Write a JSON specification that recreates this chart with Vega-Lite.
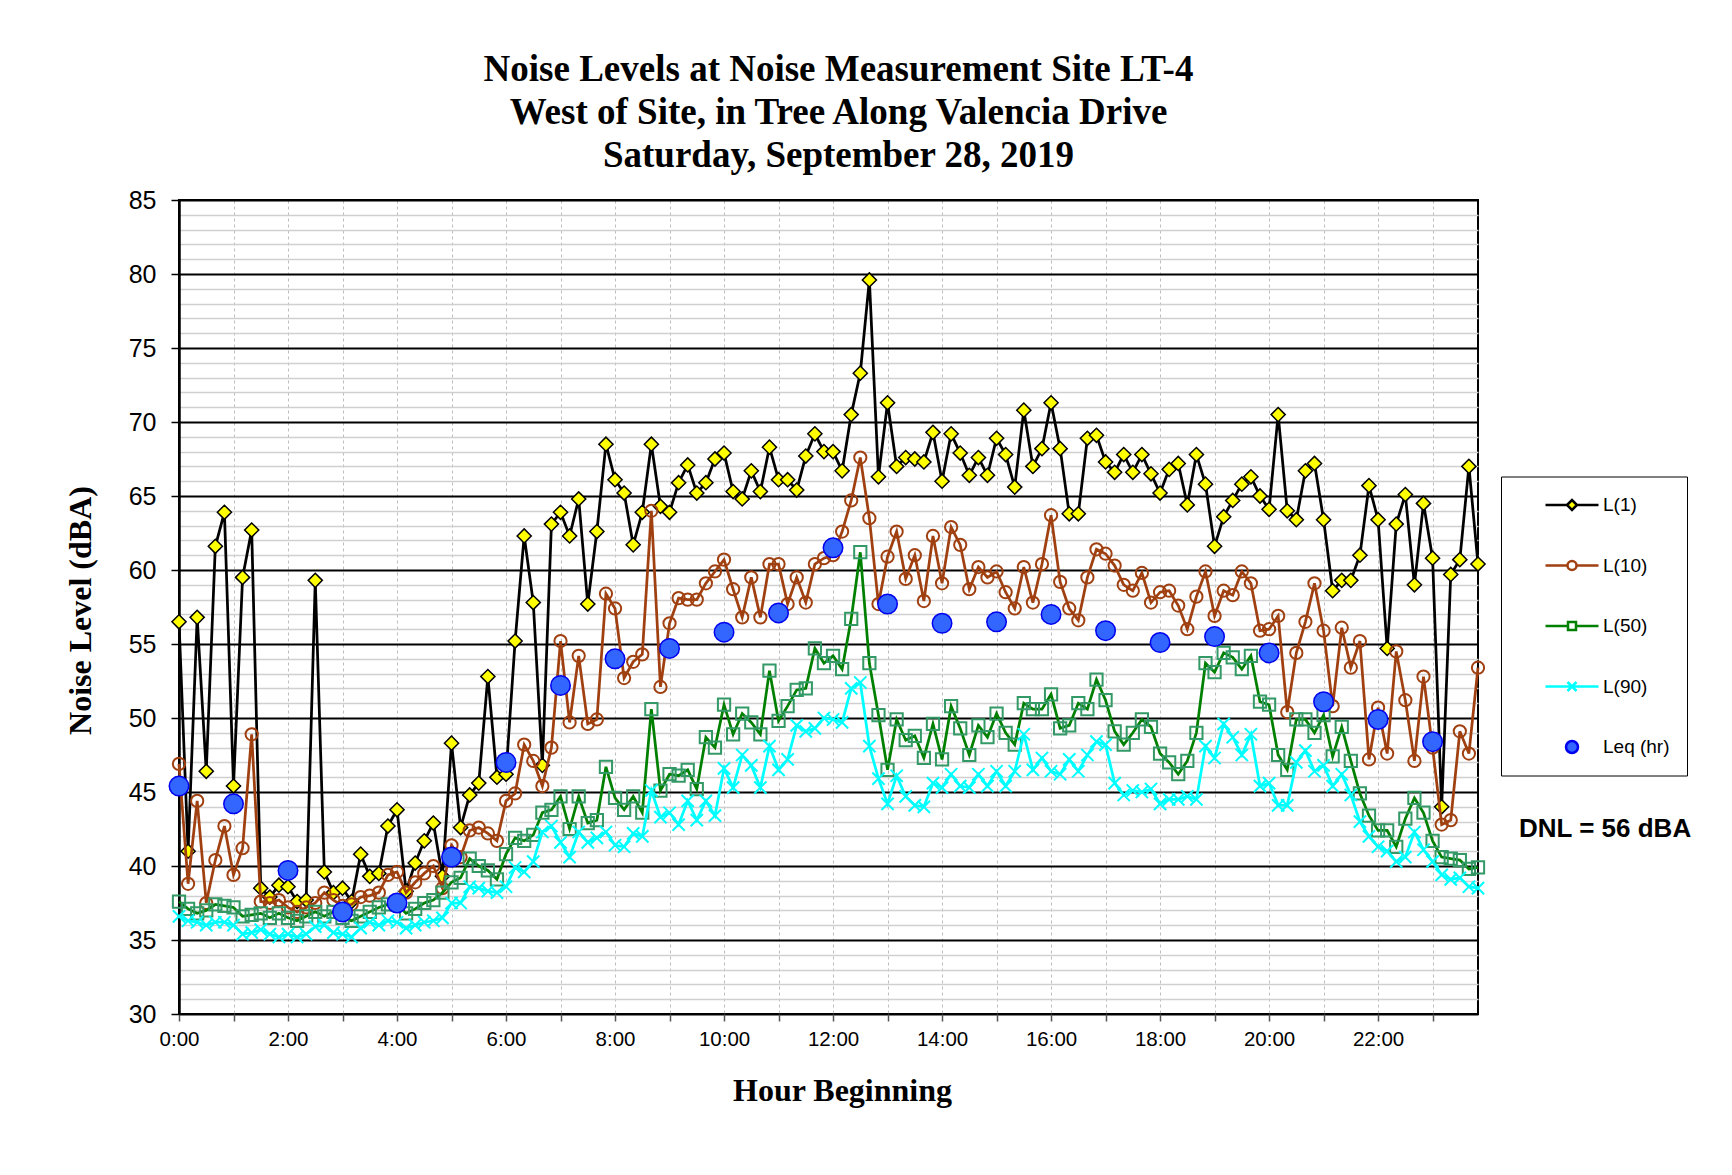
{
  "$schema": "https://vega.github.io/schema/vega-lite/v6.json",
  "width": 1299,
  "height": 814,
  "autosize": {"type": "none"},
  "padding": {"left": 179, "top": 200, "right": 254, "bottom": 161},
  "background": "white",
  "title": {
    "text": ["Noise Levels at Noise Measurement Site LT-4", "West of Site, in Tree Along Valencia Drive", "Saturday, September 28, 2019"],
    "font": "Liberation Serif", "fontSize": 37, "fontWeight": "bold", "color": "black",
    "lineHeight": 43, "anchor": "middle", "offset": 13, "dx": 10
  },
  "datasets": {
    "ten": [
      {"t":0,"L1":56.5,"L10":46.9,"L50":37.6,"L90":36.6},
      {"t":10,"L1":41.0,"L10":38.8,"L50":37.1,"L90":36.3},
      {"t":20,"L1":56.8,"L10":44.4,"L50":36.8,"L90":36.2},
      {"t":30,"L1":46.4,"L10":37.5,"L50":37.0,"L90":36.0},
      {"t":40,"L1":61.6,"L10":40.4,"L50":37.4,"L90":36.2},
      {"t":50,"L1":63.9,"L10":42.7,"L50":37.3,"L90":36.2},
      {"t":60,"L1":45.4,"L10":39.4,"L50":37.2,"L90":36.0},
      {"t":70,"L1":59.5,"L10":41.2,"L50":36.6,"L90":35.4},
      {"t":80,"L1":62.7,"L10":48.9,"L50":36.7,"L90":35.5},
      {"t":90,"L1":38.5,"L10":37.6,"L50":36.8,"L90":35.7},
      {"t":100,"L1":37.9,"L10":37.5,"L50":36.5,"L90":35.4},
      {"t":110,"L1":38.7,"L10":37.7,"L50":36.8,"L90":35.2},
      {"t":120,"L1":38.6,"L10":37.2,"L50":36.5,"L90":35.4},
      {"t":130,"L1":37.6,"L10":36.9,"L50":36.3,"L90":35.2},
      {"t":140,"L1":37.7,"L10":37.2,"L50":36.6,"L90":35.4},
      {"t":150,"L1":59.3,"L10":37.5,"L50":36.9,"L90":35.9},
      {"t":160,"L1":39.6,"L10":38.2,"L50":36.6,"L90":36.0},
      {"t":170,"L1":38.2,"L10":37.7,"L50":36.9,"L90":35.5},
      {"t":180,"L1":38.5,"L10":37.3,"L50":36.5,"L90":35.4},
      {"t":190,"L1":37.6,"L10":37.4,"L50":36.3,"L90":35.2},
      {"t":200,"L1":40.8,"L10":37.9,"L50":36.6,"L90":35.8},
      {"t":210,"L1":39.3,"L10":38.0,"L50":36.9,"L90":36.2},
      {"t":220,"L1":39.5,"L10":38.2,"L50":37.2,"L90":36.0},
      {"t":230,"L1":42.7,"L10":39.4,"L50":37.4,"L90":36.3},
      {"t":240,"L1":43.8,"L10":39.6,"L50":37.4,"L90":36.2},
      {"t":250,"L1":38.3,"L10":38.2,"L50":36.8,"L90":35.8},
      {"t":260,"L1":40.2,"L10":38.9,"L50":37.1,"L90":36.0},
      {"t":270,"L1":41.7,"L10":39.5,"L50":37.5,"L90":36.2},
      {"t":280,"L1":42.9,"L10":40.0,"L50":37.7,"L90":36.3},
      {"t":290,"L1":39.3,"L10":38.5,"L50":38.2,"L90":36.5},
      {"t":300,"L1":48.3,"L10":41.4,"L50":38.9,"L90":37.5},
      {"t":310,"L1":42.6,"L10":40.6,"L50":39.2,"L90":37.5},
      {"t":320,"L1":44.8,"L10":42.4,"L50":40.5,"L90":38.6},
      {"t":330,"L1":45.6,"L10":42.6,"L50":40.0,"L90":38.5},
      {"t":340,"L1":52.8,"L10":42.2,"L50":39.7,"L90":38.3},
      {"t":350,"L1":46.0,"L10":41.7,"L50":39.1,"L90":38.2},
      {"t":360,"L1":46.2,"L10":44.4,"L50":40.8,"L90":38.6},
      {"t":370,"L1":55.2,"L10":44.9,"L50":41.9,"L90":39.9},
      {"t":380,"L1":62.3,"L10":48.2,"L50":41.7,"L90":39.6},
      {"t":390,"L1":57.8,"L10":47.1,"L50":42.1,"L90":40.3},
      {"t":400,"L1":46.8,"L10":45.4,"L50":43.6,"L90":42.3},
      {"t":410,"L1":63.1,"L10":48.0,"L50":43.8,"L90":42.7},
      {"t":420,"L1":63.9,"L10":55.2,"L50":44.7,"L90":41.6},
      {"t":430,"L1":62.3,"L10":49.7,"L50":42.5,"L90":40.6},
      {"t":440,"L1":64.8,"L10":54.2,"L50":44.7,"L90":42.3},
      {"t":450,"L1":57.7,"L10":49.6,"L50":42.9,"L90":41.6},
      {"t":460,"L1":62.6,"L10":49.9,"L50":43.1,"L90":41.9},
      {"t":470,"L1":68.5,"L10":58.4,"L50":46.7,"L90":42.3},
      {"t":480,"L1":66.1,"L10":57.4,"L50":44.6,"L90":41.4},
      {"t":490,"L1":65.2,"L10":52.7,"L50":43.8,"L90":41.3},
      {"t":500,"L1":61.7,"L10":53.8,"L50":44.7,"L90":42.2},
      {"t":510,"L1":63.9,"L10":54.3,"L50":43.6,"L90":42.0},
      {"t":520,"L1":68.5,"L10":64.0,"L50":50.6,"L90":45.1},
      {"t":530,"L1":64.3,"L10":52.1,"L50":45.1,"L90":43.3},
      {"t":540,"L1":63.9,"L10":56.4,"L50":46.2,"L90":43.6},
      {"t":550,"L1":65.9,"L10":58.1,"L50":46.1,"L90":42.8},
      {"t":560,"L1":67.1,"L10":58.0,"L50":46.5,"L90":44.4},
      {"t":570,"L1":65.2,"L10":58.0,"L50":45.2,"L90":43.1},
      {"t":580,"L1":65.9,"L10":59.1,"L50":48.7,"L90":44.4},
      {"t":590,"L1":67.5,"L10":59.9,"L50":48.0,"L90":43.4},
      {"t":600,"L1":67.9,"L10":60.7,"L50":50.9,"L90":46.6},
      {"t":610,"L1":65.3,"L10":58.7,"L50":48.9,"L90":45.3},
      {"t":620,"L1":64.8,"L10":56.8,"L50":50.3,"L90":47.5},
      {"t":630,"L1":66.7,"L10":59.5,"L50":49.7,"L90":46.8},
      {"t":640,"L1":65.3,"L10":56.8,"L50":48.9,"L90":45.3},
      {"t":650,"L1":68.3,"L10":60.4,"L50":53.2,"L90":48.1},
      {"t":660,"L1":66.1,"L10":60.4,"L50":49.8,"L90":46.5},
      {"t":670,"L1":66.1,"L10":57.7,"L50":50.8,"L90":47.2},
      {"t":680,"L1":65.4,"L10":59.5,"L50":51.9,"L90":49.5},
      {"t":690,"L1":67.7,"L10":57.8,"L50":52.0,"L90":49.1},
      {"t":700,"L1":69.2,"L10":60.4,"L50":54.7,"L90":49.3},
      {"t":710,"L1":68.0,"L10":60.8,"L50":53.7,"L90":50.0},
      {"t":720,"L1":68.0,"L10":61.0,"L50":54.2,"L90":49.9},
      {"t":730,"L1":66.7,"L10":62.6,"L50":53.3,"L90":49.7},
      {"t":740,"L1":70.5,"L10":64.7,"L50":56.7,"L90":52.0},
      {"t":750,"L1":73.3,"L10":67.6,"L50":61.2,"L90":52.4},
      {"t":760,"L1":79.6,"L10":63.5,"L50":53.7,"L90":48.1},
      {"t":770,"L1":66.3,"L10":57.7,"L50":50.2,"L90":45.9},
      {"t":780,"L1":71.3,"L10":60.9,"L50":46.5,"L90":44.2},
      {"t":790,"L1":67.0,"L10":62.6,"L50":49.9,"L90":46.1},
      {"t":800,"L1":67.6,"L10":59.4,"L50":48.5,"L90":44.7},
      {"t":810,"L1":67.5,"L10":61.0,"L50":48.8,"L90":44.1},
      {"t":820,"L1":67.3,"L10":57.9,"L50":47.3,"L90":44.0},
      {"t":830,"L1":69.3,"L10":62.3,"L50":49.6,"L90":45.6},
      {"t":840,"L1":66.0,"L10":59.1,"L50":47.2,"L90":45.3},
      {"t":850,"L1":69.2,"L10":62.9,"L50":50.8,"L90":46.2},
      {"t":860,"L1":67.9,"L10":61.7,"L50":49.3,"L90":45.4},
      {"t":870,"L1":66.4,"L10":58.7,"L50":47.5,"L90":45.3},
      {"t":880,"L1":67.6,"L10":60.2,"L50":49.5,"L90":46.2},
      {"t":890,"L1":66.4,"L10":59.5,"L50":48.7,"L90":45.4},
      {"t":900,"L1":68.9,"L10":59.9,"L50":50.3,"L90":46.4},
      {"t":910,"L1":67.8,"L10":58.5,"L50":49.0,"L90":45.4},
      {"t":920,"L1":65.6,"L10":57.4,"L50":48.2,"L90":46.4},
      {"t":930,"L1":70.8,"L10":60.2,"L50":51.0,"L90":48.9},
      {"t":940,"L1":67.0,"L10":57.8,"L50":50.6,"L90":46.5},
      {"t":950,"L1":68.2,"L10":60.4,"L50":50.6,"L90":47.3},
      {"t":960,"L1":71.3,"L10":63.7,"L50":51.6,"L90":46.4},
      {"t":970,"L1":68.2,"L10":59.2,"L50":49.3,"L90":46.2},
      {"t":980,"L1":63.8,"L10":57.4,"L50":49.5,"L90":47.2},
      {"t":990,"L1":63.8,"L10":56.6,"L50":51.0,"L90":46.4},
      {"t":1000,"L1":68.9,"L10":59.5,"L50":50.6,"L90":47.5},
      {"t":1010,"L1":69.1,"L10":61.4,"L50":52.6,"L90":48.4},
      {"t":1020,"L1":67.3,"L10":61.1,"L50":51.2,"L90":48.2},
      {"t":1030,"L1":66.6,"L10":60.3,"L50":49.1,"L90":45.6},
      {"t":1040,"L1":67.8,"L10":59.0,"L50":48.2,"L90":44.8},
      {"t":1050,"L1":66.6,"L10":58.6,"L50":49.0,"L90":45.1},
      {"t":1060,"L1":67.8,"L10":59.8,"L50":49.9,"L90":45.0},
      {"t":1070,"L1":66.5,"L10":57.8,"L50":49.4,"L90":45.2},
      {"t":1080,"L1":65.2,"L10":58.5,"L50":47.6,"L90":44.2},
      {"t":1090,"L1":66.8,"L10":58.6,"L50":47.0,"L90":44.5},
      {"t":1100,"L1":67.2,"L10":57.6,"L50":46.2,"L90":44.5},
      {"t":1110,"L1":64.4,"L10":56.0,"L50":47.1,"L90":44.7},
      {"t":1120,"L1":67.8,"L10":58.2,"L50":49.0,"L90":44.5},
      {"t":1130,"L1":65.8,"L10":59.9,"L50":53.7,"L90":48.1},
      {"t":1140,"L1":61.6,"L10":56.9,"L50":53.1,"L90":47.3},
      {"t":1150,"L1":63.6,"L10":58.6,"L50":54.4,"L90":49.6},
      {"t":1160,"L1":64.7,"L10":58.3,"L50":54.1,"L90":48.7},
      {"t":1170,"L1":65.8,"L10":59.9,"L50":53.3,"L90":47.5},
      {"t":1180,"L1":66.3,"L10":59.1,"L50":54.2,"L90":48.9},
      {"t":1190,"L1":65.0,"L10":55.9,"L50":51.1,"L90":45.4},
      {"t":1200,"L1":64.1,"L10":56.0,"L50":50.9,"L90":45.6},
      {"t":1210,"L1":70.5,"L10":56.9,"L50":47.5,"L90":44.1},
      {"t":1220,"L1":64.0,"L10":50.4,"L50":46.5,"L90":44.1},
      {"t":1230,"L1":63.4,"L10":54.4,"L50":49.9,"L90":47.0},
      {"t":1240,"L1":66.7,"L10":56.5,"L50":49.9,"L90":47.8},
      {"t":1250,"L1":67.2,"L10":59.1,"L50":49.0,"L90":46.4},
      {"t":1260,"L1":63.4,"L10":55.9,"L50":50.2,"L90":46.8},
      {"t":1270,"L1":58.6,"L10":50.8,"L50":47.4,"L90":45.4},
      {"t":1280,"L1":59.3,"L10":56.1,"L50":49.4,"L90":46.2},
      {"t":1290,"L1":59.3,"L10":53.4,"L50":47.1,"L90":44.8},
      {"t":1300,"L1":61.0,"L10":55.2,"L50":44.9,"L90":43.0},
      {"t":1310,"L1":65.7,"L10":47.2,"L50":43.4,"L90":42.0},
      {"t":1320,"L1":63.4,"L10":50.7,"L50":42.4,"L90":41.3},
      {"t":1330,"L1":54.7,"L10":47.6,"L50":42.4,"L90":41.0},
      {"t":1340,"L1":63.1,"L10":54.5,"L50":41.3,"L90":40.3},
      {"t":1350,"L1":65.1,"L10":51.2,"L50":43.2,"L90":40.6},
      {"t":1360,"L1":59.0,"L10":47.1,"L50":44.6,"L90":42.3},
      {"t":1370,"L1":64.5,"L10":52.8,"L50":43.6,"L90":41.1},
      {"t":1380,"L1":60.8,"L10":48.0,"L50":41.7,"L90":40.3},
      {"t":1390,"L1":44.0,"L10":42.8,"L50":40.6,"L90":39.4},
      {"t":1400,"L1":59.7,"L10":43.1,"L50":40.5,"L90":39.1},
      {"t":1410,"L1":60.7,"L10":49.1,"L50":40.4,"L90":39.2},
      {"t":1420,"L1":67.0,"L10":47.6,"L50":39.8,"L90":38.6},
      {"t":1430,"L1":60.4,"L10":53.4,"L50":39.9,"L90":38.5}
    ],
    "leq": [
      {"t":0,"Leq":45.4},{"t":60,"Leq":44.2},{"t":120,"Leq":39.7},{"t":180,"Leq":36.9},
      {"t":240,"Leq":37.5},{"t":300,"Leq":40.6},{"t":360,"Leq":47.0},{"t":420,"Leq":52.2},
      {"t":480,"Leq":54.0},{"t":540,"Leq":54.7},{"t":600,"Leq":55.8},{"t":660,"Leq":57.1},
      {"t":720,"Leq":61.5},{"t":780,"Leq":57.7},{"t":840,"Leq":56.4},{"t":900,"Leq":56.5},
      {"t":960,"Leq":57.0},{"t":1020,"Leq":55.9},{"t":1080,"Leq":55.1},{"t":1140,"Leq":55.5},
      {"t":1200,"Leq":54.4},{"t":1260,"Leq":51.1},{"t":1320,"Leq":49.9},{"t":1380,"Leq":48.4}
    ]
  },
  "encoding": {
    "x": {
      "field": "t", "type": "quantitative",
      "scale": {"domain": [0, 1430], "nice": false, "zero": false},
      "axis": {
        "values": [0,60,120,180,240,300,360,420,480,540,600,660,720,780,840,900,960,1020,1080,1140,1200,1260,1320,1380],
        "labelExpr": "datum.value % 120 === 0 ? floor(datum.value / 60) + ':00' : ''",
        "labelFont": "Liberation Sans", "labelFontSize": 20.5, "labelColor": "black",
        "labelPadding": 8, "labelOverlap": false, "labelFlush": false,
        "grid": true, "gridColor": "#bdbdbd", "gridDash": [3, 3], "gridWidth": 1,
        "tickColor": "#555555", "tickSize": 7, "tickWidth": 1.5, "domain": false,
        "title": "Hour Beginning", "titleFont": "Liberation Serif", "titleFontSize": 32,
        "titleFontWeight": "bold", "titleColor": "black", "titlePadding": 26, "titleX": 663
      }
    },
    "y": {
      "field": "v", "type": "quantitative",
      "scale": {"domain": [30, 85], "nice": false, "zero": false},
      "axis": {
        "values": [30,31,32,33,34,35,36,37,38,39,40,41,42,43,44,45,46,47,48,49,50,51,52,53,54,55,56,57,58,59,60,61,62,63,64,65,66,67,68,69,70,71,72,73,74,75,76,77,78,79,80,81,82,83,84,85],
        "labelExpr": "datum.value % 5 === 0 ? datum.label : ''",
        "labelFont": "Liberation Sans", "labelFontSize": 25, "labelColor": "black",
        "labelPadding": 15, "labelOverlap": false,
        "grid": true,
        "gridColor": {"condition": {"test": "datum.value % 5 === 0", "value": "black"}, "value": "#d0d0d0"},
        "gridWidth": {"condition": {"test": "datum.value % 5 === 0", "value": 2}, "value": 1.3},
        "tickColor": {"condition": {"test": "datum.value % 5 === 0", "value": "black"}, "value": "transparent"},
        "tickSize": 8, "tickWidth": 1.5,
        "domain": true, "domainColor": "black", "domainWidth": 2.5,
        "title": "Noise Level (dBA)", "titleFont": "Liberation Serif", "titleFontSize": 32,
        "titleFontWeight": "bold", "titleColor": "black", "titlePadding": 31, "titleY": 410
      }
    }
  },
  "layer": [
    {
      "data": {"name": "ten"},
      "transform": [{"fold": ["L1", "L10", "L50", "L90"], "as": ["k", "v"]}],
      "layer": [
        {
          "transform": [{"filter": "datum.k === 'L1'"}],
          "mark": {"type": "line", "color": "#000000", "strokeWidth": 2.75}
        },
        {
          "transform": [{"filter": "datum.k === 'L1'"}],
          "mark": {"type": "point", "shape": "diamond", "filled": true, "fill": "#FFFF00", "stroke": "black", "strokeWidth": 1.5, "size": 200, "opacity": 1}
        },
        {
          "transform": [{"filter": "datum.k === 'L10'"}],
          "mark": {"type": "line", "color": "#A04010", "strokeWidth": 2.75}
        },
        {
          "transform": [{"filter": "datum.k === 'L10'"}],
          "mark": {"type": "point", "shape": "circle", "filled": false, "stroke": "#A04010", "strokeWidth": 2, "size": 150, "opacity": 1}
        },
        {
          "transform": [{"filter": "datum.k === 'L50'"}],
          "mark": {"type": "line", "color": "#008000", "strokeWidth": 2.75}
        },
        {
          "transform": [{"filter": "datum.k === 'L50'"}],
          "mark": {"type": "point", "shape": "square", "filled": false, "stroke": "#339966", "strokeWidth": 2, "size": 150, "opacity": 1}
        },
        {
          "transform": [{"filter": "datum.k === 'L90'"}],
          "mark": {"type": "line", "color": "#00FFFF", "strokeWidth": 2.75}
        },
        {
          "transform": [{"filter": "datum.k === 'L90'"}],
          "mark": {"type": "point", "shape": "M-1,-1L1,1M-1,1L1,-1", "filled": false, "stroke": "#00FFFF", "strokeWidth": 2, "size": 150, "opacity": 1}
        }
      ]
    },
    {
      "data": {"name": "leq"},
      "transform": [{"fold": ["Leq"], "as": ["k", "v"]}],
      "mark": {"type": "point", "shape": "circle", "filled": true, "fill": "#3366FF", "stroke": "#0000EE", "strokeWidth": 1.5, "opacity": 1},
      "encoding": {
        "size": {
          "datum": "DNL", "type": "ordinal",
          "scale": {"range": [380, 380]},
          "legend": {
            "title": "DNL = 56 dBA", "orient": "none", "legendX": 1340, "legendY": 616,
            "padding": 0, "titleFont": "Liberation Sans", "titleFontSize": 26, "titleFontWeight": "bold",
            "titleColor": "black", "titleLimit": 500, "labelExpr": "''", "symbolOpacity": 0
          }
        }
      }
    },
    {
      "data": {"name": "leq"},
      "transform": [{"filter": "false"}, {"fold": ["Leq"], "as": ["k", "v"]}],
      "mark": {"type": "point"},
      "encoding": {
        "shape": {
          "field": "k", "type": "nominal",
          "scale": {
            "domain": ["L1", "L10", "L50", "L90", "Leq"],
            "range": [
              "M-2.65,0L-0.5,0M0.5,0L2.65,0M-0.5,0L0,-0.5L0.5,0L0,0.5Z",
              "M-2.65,0L-0.45,0M0.45,0L2.65,0M-0.45,0A0.45,0.45,0,1,1,0.45,0A0.45,0.45,0,1,1,-0.45,0Z",
              "M-2.65,0L-0.4,0M0.4,0L2.65,0M-0.4,-0.4L0.4,-0.4L0.4,0.4L-0.4,0.4Z",
              "M-2.65,0L2.65,0M-0.45,-0.45L0.45,0.45M-0.45,0.45L0.45,-0.45",
              "M-0.6,0A0.6,0.6,0,1,1,0.6,0A0.6,0.6,0,1,1,-0.6,0Z"
            ]
          },
          "legend": {
            "title": null, "orient": "none", "legendX": 1322, "legendY": 276.5,
            "padding": 17, "rowPadding": 38.5, "symbolOffset": 42.5, "labelOffset": 19.5,
            "strokeColor": "black", "fillColor": "white",
            "symbolSize": 400, "symbolStrokeWidth": 2.5, "symbolOpacity": 1,
            "labelFont": "Liberation Sans", "labelFontSize": 19, "labelColor": "black", "labelLimit": 400,
            "labelExpr": "{'L1': 'L(1)', 'L10': 'L(10)', 'L50': 'L(50)', 'L90': 'L(90)', 'Leq': 'Leq (hr)\u00a0\u00a0\u00a0\u00a0\u00a0'}[datum.label]"
          }
        },
        "fill": {
          "field": "k", "type": "nominal",
          "scale": {"domain": ["L1", "L10", "L50", "L90", "Leq"], "range": ["#FFFF00", "#FFFFFF", "#FFFFFF", "transparent", "#3366FF"]},
          "legend": {
            "title": null, "orient": "none", "legendX": 1322, "legendY": 276.5,
            "padding": 17, "rowPadding": 38.5, "symbolOffset": 42.5, "labelOffset": 19.5,
            "strokeColor": "black", "fillColor": "white",
            "symbolSize": 400, "symbolStrokeWidth": 2.5, "symbolOpacity": 1,
            "labelFont": "Liberation Sans", "labelFontSize": 19, "labelColor": "black", "labelLimit": 400,
            "labelExpr": "{'L1': 'L(1)', 'L10': 'L(10)', 'L50': 'L(50)', 'L90': 'L(90)', 'Leq': 'Leq (hr)\u00a0\u00a0\u00a0\u00a0\u00a0'}[datum.label]"
          }
        },
        "stroke": {
          "field": "k", "type": "nominal",
          "scale": {"domain": ["L1", "L10", "L50", "L90", "Leq"], "range": ["#000000", "#A04010", "#008000", "#00FFFF", "#0000EE"]},
          "legend": {
            "title": null, "orient": "none", "legendX": 1322, "legendY": 276.5,
            "padding": 17, "rowPadding": 38.5, "symbolOffset": 42.5, "labelOffset": 19.5,
            "strokeColor": "black", "fillColor": "white",
            "symbolSize": 400, "symbolStrokeWidth": 2.5, "symbolOpacity": 1,
            "labelFont": "Liberation Sans", "labelFontSize": 19, "labelColor": "black", "labelLimit": 400,
            "labelExpr": "{'L1': 'L(1)', 'L10': 'L(10)', 'L50': 'L(50)', 'L90': 'L(90)', 'Leq': 'Leq (hr)\u00a0\u00a0\u00a0\u00a0\u00a0'}[datum.label]"
          }
        }
      }
    }
  ],
  "config": {
    "view": {"stroke": "black", "strokeWidth": 2},
    "font": "Liberation Sans"
  }
}
